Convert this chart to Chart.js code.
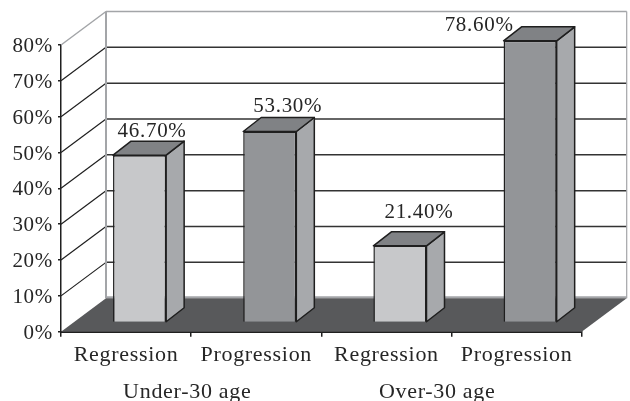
<!DOCTYPE html>
<html>
<head>
<meta charset="utf-8">
<style>
    html, body { margin: 0; padding: 0; background: #fff; }
    canvas { display: block; }
</style>
<script src="https://cdn.jsdelivr.net/npm/chart.js@4/dist/chart.umd.min.js"></script>
</head>
<body>
<canvas id="chart" width="630" height="401"></canvas>
<script>
const categories = ["Regression", "Progression", "Regression", "Progression"]
const values = [46.7, 53.3, 21.4, 78.6]
const valueLabels = ["46.70%", "53.30%", "21.40%", "78.60%"]
const groupLabels = ["Under-30 age", "Over-30 age"]
const groupCenters = [0.97, 2.89]
const yTicks = [0, 10, 20, 30, 40, 50, 60, 70, 80]

const numberFont = { family: "'Liberation Serif', serif", size: 21 }
const wordFont = { family: "'Liberation Serif', serif", size: 22 }
const textColor = "#262626"
const lineColor = "#1f1f1f"
const wallColor = "#a3a5a8"
const floorColor = "#58595b"
const frontColors = ["#c7c8ca", "#939598", "#c7c8ca", "#939598"]
const sideColor = "#a7a9ac"
const topColors = ["#808285", "#808285", "#808285", "#808285"]

// 3D look: room depth, bar depth and how far the bars sit inside the room
const roomDepth = { x: 45, y: -33.5 }
const barDepth = { x: 18, y: -14 }
const barShift = { x: 13.5, y: -9.2 }
const labelNudge = [[12.5, -23.5], [18, -25], [19, -33], [-51, -15]]

function polygon(ctx, points, fill, stroke, width) {
    ctx.beginPath()
    points.forEach((p, i) => (i ? ctx.lineTo(p[0], p[1]) : ctx.moveTo(p[0], p[1])))
    ctx.closePath()
    if (fill) {
        ctx.fillStyle = fill
        ctx.fill()
    }
    if (stroke) {
        ctx.strokeStyle = stroke
        ctx.lineWidth = width
        ctx.lineJoin = "round"
        ctx.stroke()
    }
}

function line(ctx, x1, y1, x2, y2, color, width) {
    ctx.beginPath()
    ctx.moveTo(x1, y1)
    ctx.lineTo(x2, y2)
    ctx.strokeStyle = color
    ctx.lineWidth = width
    ctx.stroke()
}

const room3d = {
    id: "room3d",
    afterLayout(chart) {
        // the y labels sit a little low in the original
        chart.scales.y.getLabelItems(chart.chartArea).forEach(item => {
            item.options.translation[1] += 1.5
        })
    },
    beforeDraw(chart) {
        chart.ctx.letterSpacing = "0.7px"
    },
    beforeDatasetsDraw(chart) {
        const ctx = chart.ctx
        const y = chart.scales.y
        const left = chart.chartArea.left
        const right = chart.chartArea.right
        const dx = roomDepth.x
        const dy = roomDepth.y
        const zero = y.getPixelForValue(0)
        const top = y.getPixelForValue(80)

        ctx.save()
        // grid on the back wall and the left wall
        yTicks.slice(1, -1).forEach(v => {
            const py = y.getPixelForValue(v)
            line(ctx, left, py, left + dx, py + dy, lineColor, 1.2)
            line(ctx, left + dx, py + dy, right + dx, py + dy, "#333333", 1.5)
        })
        line(ctx, left, top, left + dx, top + dy, wallColor, 1.5)
        line(ctx, left + dx, top + dy, right + dx, top + dy, wallColor, 1.5)
        line(ctx, left + dx, top + dy, left + dx, zero + dy, wallColor, 2)
        line(ctx, right + dx, top + dy, right + dx, zero + dy, wallColor, 1.2)
        line(ctx, left + dx, zero + dy - 1, right + dx, zero + dy - 1, wallColor, 2)
        polygon(ctx, [
            [left, zero],
            [left + dx, zero + dy],
            [right + dx, zero + dy],
            [right, zero]
        ], floorColor)
        ctx.restore()
    },
    beforeDatasetDraw(chart, args) {
        const ctx = chart.ctx
        ctx.save()
        ctx.translate(barShift.x, barShift.y)
        args.meta.data.forEach((bar, i) => {
            const x1 = bar.x - bar.width / 2
            const x2 = bar.x + bar.width / 2
            const dx = barDepth.x
            const dy = barDepth.y
            polygon(ctx, [
                [x2, bar.y],
                [x2 + dx, bar.y + dy],
                [x2 + dx, bar.base + dy],
                [x2, bar.base]
            ], sideColor, lineColor, 1.5)
            polygon(ctx, [
                [x1, bar.y],
                [x1 + dx, bar.y + dy],
                [x2 + dx, bar.y + dy],
                [x2, bar.y]
            ], topColors[i], lineColor, 1.5)
        })
    },
    afterDatasetDraw(chart) {
        chart.ctx.restore()
    },
    afterDatasetsDraw(chart) {
        const ctx = chart.ctx
        ctx.save()
        ctx.font = numberFont.size + "px " + numberFont.family
        ctx.fillStyle = textColor
        ctx.textAlign = "center"
        ctx.textBaseline = "middle"
        chart.getDatasetMeta(0).data.forEach((bar, i) => {
            ctx.fillText(
                valueLabels[i],
                bar.x + barShift.x + labelNudge[i][0],
                bar.y + barShift.y + labelNudge[i][1]
            )
        })
        ctx.restore()
    }
}

new Chart(document.getElementById("chart"), {
    type: "bar",
    data: {
        labels: categories,
        datasets: [{
            data: values,
            backgroundColor: frontColors,
            borderColor: lineColor,
            borderWidth: 1.5,
            barPercentage: 0.408,
            categoryPercentage: 1,
            clip: false
        }]
    },
    options: {
        responsive: false,
        animation: false,
        events: [],
        layout: { padding: { top: 45, right: 48.3, left: 0, bottom: 0 } },
        plugins: {
            legend: { display: false },
            title: { display: false },
            tooltip: { enabled: false }
        },
        scales: {
            x: {
                type: "category",
                position: "bottom",
                afterFit: axis => { axis.height = 36 },
                grid: {
                    drawOnChartArea: false,
                    color: lineColor,
                    lineWidth: 1.5,
                    tickLength: 5
                },
                border: { color: lineColor, width: 2 },
                ticks: {
                    color: textColor,
                    font: wordFont,
                    padding: 5,
                    maxRotation: 0,
                    autoSkip: false
                }
            },
            x2: {
                type: "linear",
                axis: "x",
                position: "bottom",
                offset: false,
                min: 0,
                max: 4,
                afterFit: axis => { axis.height = 33.3 },
                afterBuildTicks: axis => {
                    axis.ticks = groupCenters.map(value => ({ value }))
                },
                grid: { display: false },
                border: { display: false },
                ticks: {
                    color: textColor,
                    font: wordFont,
                    padding: 3,
                    maxRotation: 0,
                    autoSkip: false,
                    callback: value => groupLabels[groupCenters.indexOf(value)]
                }
            },
            y: {
                min: 0,
                max: 80,
                afterFit: axis => { axis.width = 61 },
                afterBuildTicks: axis => {
                    axis.ticks = yTicks.map(value => ({ value }))
                },
                grid: {
                    drawOnChartArea: false,
                    color: lineColor,
                    lineWidth: 1.5,
                    tickLength: 3
                },
                border: { color: lineColor, width: 1.5 },
                ticks: {
                    color: textColor,
                    font: numberFont,
                    padding: 5,
                    callback: value => value + "%"
                }
            }
        }
    },
    plugins: [room3d]
})
</script>
</body>
</html>
